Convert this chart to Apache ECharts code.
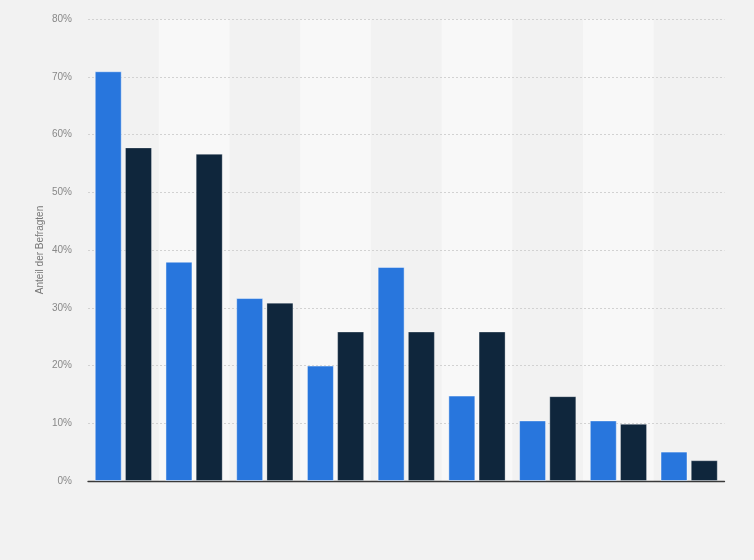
<!DOCTYPE html>
<html>
<head>
<meta charset="utf-8">
<script src="https://cdn.jsdelivr.net/npm/echarts@6/dist/echarts.min.js"></script>
<style>
html,body{margin:0;padding:0;background:#f2f2f2;}
#chart{width:754px;height:560px;}
</style>
</head>
<body>
<div id="chart"></div>
<script>
var categories = ['1','2','3','4','5','6','7','8','9'];
var seriesA = [71, 38, 31.7, 20, 37.1, 14.8, 10.5, 10.5, 5.1];
var seriesB = [57.8, 56.7, 30.9, 25.9, 25.9, 25.9, 14.7, 9.9, 3.6];
var yTicks = [0, 10, 20, 30, 40, 50, 60, 70, 80];
var yTitle = 'Anteil der Befragten';

var chart = echarts.init(document.getElementById('chart'), null, {renderer:'canvas'});
chart.setOption({
  backgroundColor: '#f2f2f2',
  animation: false,
  grid: {left: 88, right: 29.5, top: 19.3, bottom: 79},
  graphic: [{
    type: 'text',
    x: 40, y: 250,
    rotation: Math.PI / 2,
    style: {
      text: yTitle,
      fill: '#777',
      fontSize: 10,
      fontFamily: 'Liberation Sans, Arial, sans-serif',
      align: 'center',
      verticalAlign: 'middle'
    }
  }],
  xAxis: {
    type: 'category',
    z: 0,
    data: categories,
    axisLine: {show: true, lineStyle: {color: '#3a3a3a', width: 1.3}},
    axisTick: {show: false},
    axisLabel: {show: false},
    splitArea: {show: true, areaStyle: {color: ['rgba(0,0,0,0)', '#f8f8f8']}}
  },
  yAxis: {
    type: 'value',
    z: 1,
    min: yTicks[0],
    max: yTicks[yTicks.length - 1],
    interval: 10,
    axisLine: {show: false},
    axisTick: {show: false},
    axisLabel: {formatter: '{value}%', color: '#888', fontSize: 10, margin: 16, fontFamily: 'Liberation Sans, Arial, sans-serif'},
    splitLine: {show: true, showMinLine: false, lineStyle: {color: '#d2d2d2', type: [2, 2], width: 1}}
  },
  series: [
    {
      type: 'bar',
      z: 2,
      data: seriesA,
      barWidth: 27,
      barGap: '12%',
      itemStyle: {color: '#2876dd', borderColor: 'rgba(255,255,255,0.45)', borderWidth: 1}
    },
    {
      type: 'bar',
      z: 2,
      data: seriesB,
      barWidth: 27,
      barGap: '12%',
      itemStyle: {color: '#0f263c', borderColor: 'rgba(255,255,255,0.3)', borderWidth: 1}
    }
  ]
});
</script>
</body>
</html>
